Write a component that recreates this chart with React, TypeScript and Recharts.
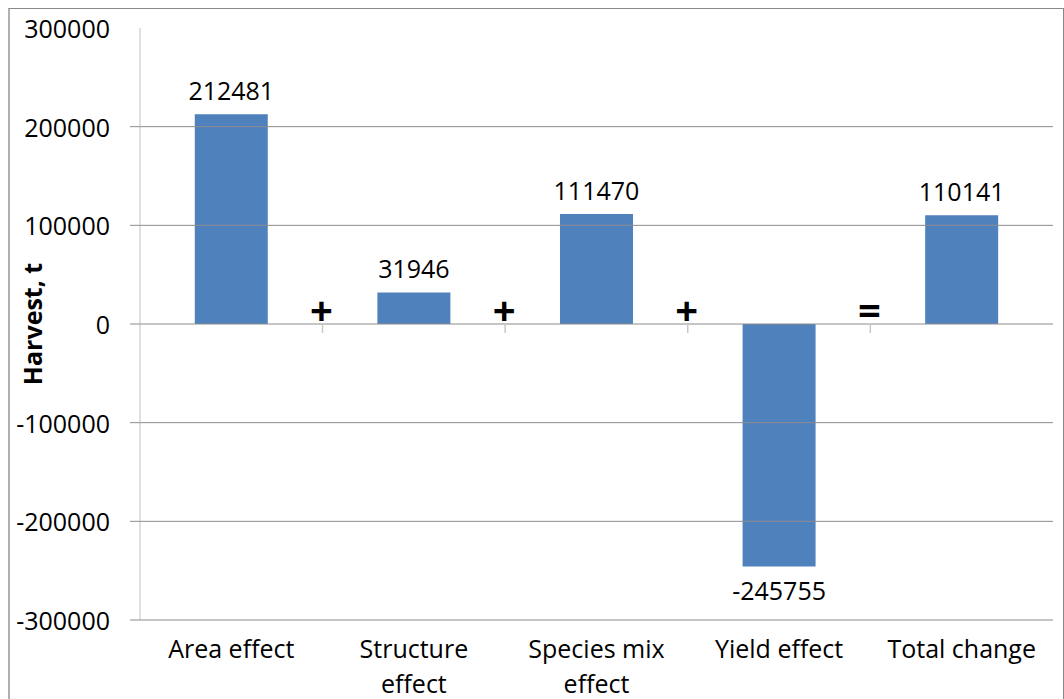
import React from 'react';
import { BarChart, Bar, XAxis, YAxis, ReferenceLine, LabelList } from 'recharts';

const categories = ['Area effect', 'Structure effect', 'Species mix effect', 'Yield effect', 'Total change'];
const categoryLines = [['Area effect'], ['Structure', 'effect'], ['Species mix', 'effect'], ['Yield effect'], ['Total change']];
const harvestValues = [212481, 31946, 111470, -245755, 110141];
const operators = ['+', '+', '+', '=', ''];
const yTicks = [-300000, -200000, -100000, 0, 100000, 200000, 300000];
const gridValues = [-300000, -200000, -100000, 100000, 200000];

const data = categories.map((c, i) => ({ name: c, value: harvestValues[i], lines: categoryLines[i], op: operators[i] }));

const FONT = "'Open Sans', sans-serif";
const Y_TICK_SIZE = 10;
const Y_TICK_MARGIN = 20;
const BAR_FRACTION = 0.4;

const YTick = (props: any) => {
  const { x, y, payload } = props;
  return (
    <g>
      {payload.value !== 300000 && (
        <line x1={x + Y_TICK_MARGIN} x2={x + Y_TICK_MARGIN + Y_TICK_SIZE} y1={y} y2={y} stroke="#8c8c8c" strokeWidth={1} />
      )}
      <text x={x} y={y} textAnchor="end" dominantBaseline="central" fontFamily={FONT} fontSize={25} fill="#000">
        {payload.value}
      </text>
    </g>
  );
};

const XTick = (props: any) => {
  const { x, y, index } = props;
  const lines = categoryLines[index] || [];
  return (
    <g>
      {lines.map((l, i) => (
        <text key={i} x={x} y={y + 30 + i * 35} textAnchor="middle" fontFamily={FONT} fontSize={25} fill="#000">
          {l}
        </text>
      ))}
    </g>
  );
};

const ValueLabel = (props: any) => {
  const { x, y, width, height, value, index } = props;
  const top = Math.min(y, y + height);
  const bottom = Math.max(y, y + height);
  const cx = x + width / 2;
  const zeroY = value >= 0 ? bottom : top;
  const band = width / BAR_FRACTION;
  const bx = cx + band / 2;
  const op = operators[index];
  return (
    <g>
      {value >= 0 ? (
        <text x={cx} y={top - 14} textAnchor="middle" fontFamily={FONT} fontSize={25} fill="#000">{value}</text>
      ) : (
        <text x={cx} y={bottom + 34} textAnchor="middle" fontFamily={FONT} fontSize={25} fill="#000">{value}</text>
      )}
      {op && (
        <>
          <line x1={bx} x2={bx} y1={zeroY} y2={zeroY + 9} stroke="#c8c8c8" strokeWidth={1.5} />
          <text x={bx - 1} y={zeroY + 1} textAnchor="middle" fontFamily={FONT} fontWeight="bold" fontSize={40} fill="#000">{op}</text>
        </>
      )}
    </g>
  );
};

const YLabel = (props: any) => {
  const { viewBox } = props;
  const cx = viewBox.x + 32;
  const cy = viewBox.y + viewBox.height / 2;
  return (
    <text x={cx} y={cy} transform={`rotate(-90, ${cx}, ${cy})`} textAnchor="middle" dominantBaseline="central" fontFamily={FONT} fontWeight="bold" fontSize={25} fill="#000">
      Harvest, t
    </text>
  );
};

export default function App() {
  return (
    <div style={{ position: 'absolute', left: 0, top: 0, width: 1064, height: 699, overflow: 'hidden', background: '#fff' }}>
      <div style={{ position: 'absolute', left: 8, top: 8, width: 1056, height: 700, boxSizing: 'border-box', borderTop: '1px solid #888', borderLeft: '2px solid #b0b0b0', borderRight: '1px solid #888' }} />
      <div style={{ position: 'absolute', left: 0, top: 0 }}>
        <BarChart width={1064} height={699} data={data} margin={{ top: 28, right: 11, bottom: 0, left: 0 }} barCategoryGap="30%">
          <XAxis dataKey="name" height={79} axisLine={false} tickLine={false} tick={<XTick />} interval={0} />
          <YAxis
            width={140}
            domain={[-300000, 300000]}
            ticks={yTicks}
            axisLine={{ stroke: '#c0c0c0' }}
            tickLine={false}
            tickSize={Y_TICK_SIZE}
            tickMargin={Y_TICK_MARGIN}
            tick={<YTick />}
            interval={0}
            label={<YLabel />}
          />
          {gridValues.map((v) => (
            <ReferenceLine key={v} y={v} stroke="#8c8c8c" strokeWidth={1} />
          ))}
          <ReferenceLine y={0} stroke="#8c8c8c" strokeWidth={1} />
          <Bar dataKey="value" fill="#4F81BD" isAnimationActive={false}>
            <LabelList dataKey="value" content={<ValueLabel />} />
          </Bar>
        </BarChart>
      </div>
    </div>
  );
}
